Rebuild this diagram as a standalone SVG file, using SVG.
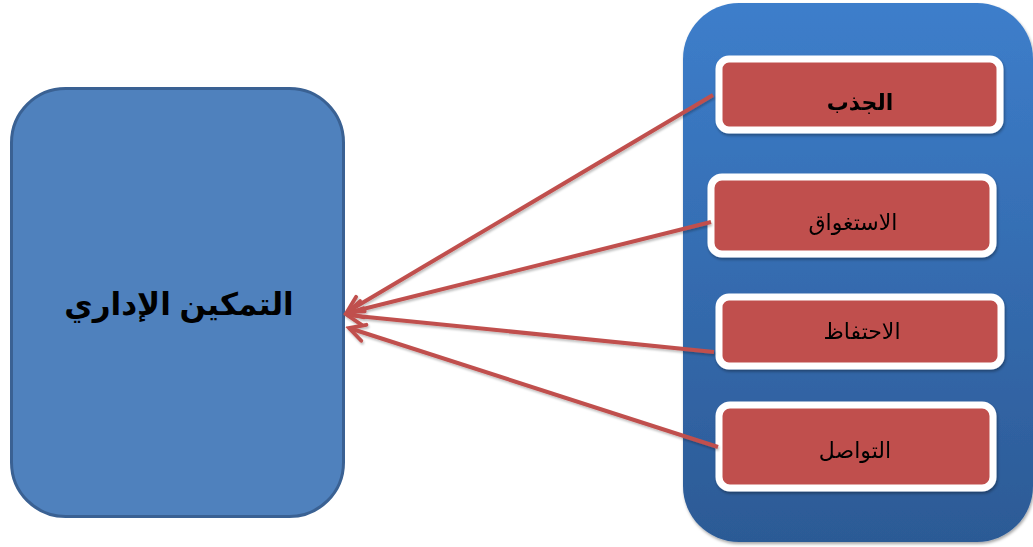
<svg xmlns="http://www.w3.org/2000/svg" width="1033" height="547" viewBox="0 0 1033 547">
  <defs>
    <linearGradient id="panelGrad" x1="0" y1="0" x2="0" y2="1">
      <stop offset="0" stop-color="#3d7ecb"/>
      <stop offset="1" stop-color="#2c5a95"/>
    </linearGradient>
    <filter id="softShadow" x="-10%" y="-10%" width="120%" height="125%">
      <feDropShadow dx="1" dy="2" stdDeviation="1.6" flood-color="#000" flood-opacity="0.35"/>
    </filter>
    <filter id="lineShadow" x="-5%" y="-20%" width="110%" height="140%">
      <feDropShadow dx="1" dy="2" stdDeviation="1.2" flood-color="#000" flood-opacity="0.25"/>
    </filter>
    <!-- open chevron head, tip at the end of the line -->
    <marker id="openArrow" viewBox="0 0 20 20" refX="17" refY="10" markerWidth="6" markerHeight="6" markerUnits="strokeWidth" orient="auto">
      <path d="M4,3 L17,10 L4,17" fill="none" stroke="#c0504d" stroke-width="3.2" stroke-linecap="round" stroke-linejoin="miter"/>
    </marker>
    <style>
      .main { fill: #4f81bd; stroke: #3a6193; stroke-width: 3; }
      .panel { fill: url(#panelGrad); }
      .item { fill: #c0504d; stroke: #ffffff; stroke-width: 7; }
      .link { stroke: #c0504d; stroke-width: 4; fill: none; marker-end: url(#openArrow); }
      .label { font-family: "Liberation Sans", "DejaVu Sans", sans-serif; fill: #000; text-anchor: middle; direction: rtl; }
      .title { font-size: 31px; font-weight: bold; }
      .itemText { font-size: 22px; }
    </style>
  </defs>

  <!-- left node -->
  <g id="node-empowerment">
    <rect class="main" x="11.5" y="88.5" width="332" height="428" rx="54" ry="54"/>
    <text class="label title" x="179" y="315">التمكين الإداري</text>
  </g>

  <!-- right container -->
  <g id="panel" filter="url(#softShadow)">
    <rect class="panel" x="683" y="3" width="350" height="539" rx="56" ry="56"/>
  </g>

  <!-- items -->
  <g id="node-attraction" filter="url(#softShadow)">
    <rect class="item" x="719" y="59" width="281" height="71" rx="10" ry="10"/>
    <text class="label itemText" x="860" y="110" font-weight="bold">الجذب</text>
  </g>
  <g id="node-engagement" filter="url(#softShadow)">
    <rect class="item" x="711" y="177" width="282" height="77" rx="11" ry="11"/>
    <text class="label itemText" x="853" y="230">الاستغواق</text>
  </g>
  <g id="node-retention" filter="url(#softShadow)">
    <rect class="item" x="719" y="297" width="282" height="69" rx="10" ry="10"/>
    <text class="label itemText" x="862" y="339">الاحتفاظ</text>
  </g>
  <g id="node-communication" filter="url(#softShadow)">
    <rect class="item" x="719" y="405" width="274" height="83" rx="11" ry="11"/>
    <text class="label itemText" x="855" y="458">التواصل</text>
  </g>

  <!-- connectors -->
  <g id="connectors" filter="url(#lineShadow)">
    <line class="link" x1="713" y1="95" x2="347" y2="312"/>
    <line class="link" x1="711" y1="222" x2="347" y2="313"/>
    <line class="link" x1="714" y1="352" x2="347" y2="315"/>
    <line class="link" x1="718" y1="447" x2="349" y2="328"/>
  </g>
</svg>
